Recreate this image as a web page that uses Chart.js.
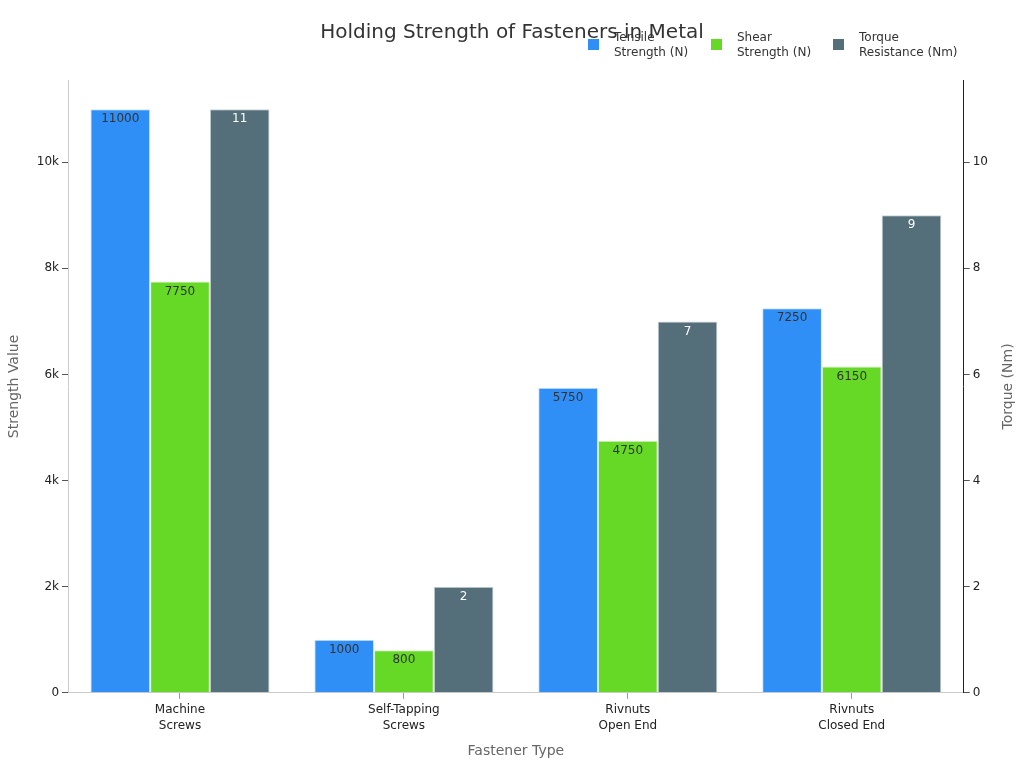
<!DOCTYPE html>
<html>
<head>
<meta charset="utf-8">
<script src="https://cdn.jsdelivr.net/npm/chart.js@4.4.1/dist/chart.umd.min.js"></script>
<style>
  html, body { margin: 0; padding: 0; background: #fff; }
  #wrap { width: 1024px; height: 768px; }
</style>
</head>
<body>
<div id="wrap"><canvas id="chart"></canvas></div>
<script>
const categories = [['Machine', 'Screws'], ['Self-Tapping', 'Screws'], ['Rivnuts', 'Open End'], ['Rivnuts', 'Closed End']];
const tensileValues = [11000, 1000, 5750, 7250];
const shearValues = [7750, 800, 4750, 6150];
const torqueValues = [11, 2, 7, 9];
const seriesLabels = [['Tensile', 'Strength (N)'], ['Shear', 'Strength (N)'], ['Torque', 'Resistance (Nm)']];
const chartTitle = 'Holding Strength of Fasteners in Metal';
const rightAxisTitle = 'Torque (Nm)';

const FONT = "'DejaVu Sans', sans-serif";

// labels inside the top of each bar
const barLabels = {
  id: 'barLabels',
  afterDatasetsDraw(chart) {
    const ctx = chart.ctx;
    ctx.save();
    ctx.font = '12px ' + FONT;
    ctx.textAlign = 'center';
    ctx.textBaseline = 'middle';
    chart.data.datasets.forEach((ds, i) => {
      chart.getDatasetMeta(i).data.forEach((bar, j) => {
        ctx.fillStyle = ds.labelColor;
        ctx.fillText(String(ds.data[j]), bar.x, bar.y + 10);
      });
    });
    ctx.restore();
  }
};

// title, legend and the right axis title (reads bottom to top)
const header = {
  id: 'header',
  afterDraw(chart) {
    const ctx = chart.ctx;
    ctx.save();
    ctx.fillStyle = '#333';
    ctx.font = '20px ' + FONT;
    ctx.textAlign = 'center';
    ctx.textBaseline = 'middle';
    ctx.fillText(chartTitle, 512, 33);

    const starts = [588, 711, 833];
    ctx.font = '12px ' + FONT;
    ctx.textAlign = 'left';
    chart.data.datasets.forEach((ds, i) => {
      const x = starts[i];
      ctx.fillStyle = ds.backgroundColor;
      ctx.fillRect(x, 39, 11, 11);
      ctx.fillStyle = '#333';
      const lines = seriesLabels[i];
      ctx.fillText(lines[0], x + 26, 38);
      ctx.fillText(lines[1], x + 26, 53);
    });

    const area = chart.chartArea;
    ctx.translate(1008, (area.top + area.bottom) / 2);
    ctx.rotate(-Math.PI / 2);
    ctx.textAlign = 'center';
    ctx.fillStyle = '#666';
    ctx.font = '14px ' + FONT;
    ctx.fillText(rightAxisTitle, 0, 0);
    ctx.restore();
  }
};

new Chart(document.getElementById('chart'), {
  type: 'bar',
  data: {
    labels: categories,
    datasets: [
      { label: 'Tensile Strength (N)', data: tensileValues, backgroundColor: '#2f8ff6', borderColor: '#cfe3f7', borderWidth: 1, yAxisID: 'y', labelColor: '#333' },
      { label: 'Shear Strength (N)', data: shearValues, backgroundColor: '#66d926', borderColor: '#d8f2c4', borderWidth: 1, yAxisID: 'y', labelColor: '#333' },
      { label: 'Torque Resistance (Nm)', data: torqueValues, backgroundColor: '#546e7a', borderColor: '#c9d3d8', borderWidth: 1, yAxisID: 'y1', labelColor: '#fff' }
    ]
  },
  options: {
    responsive: true,
    maintainAspectRatio: false,
    animation: false,
    layout: { padding: { top: 80, left: 2, right: 33, bottom: 4 } },
    datasets: { bar: { categoryPercentage: 0.8, barPercentage: 1.0 } },
    plugins: {
      legend: { display: false },
      title: { display: false },
      tooltip: { enabled: false }
    },
    scales: {
      x: {
        grid: { display: true, drawOnChartArea: false, offset: false, tickLength: 6, color: '#999' },
        border: { color: '#ccc' },
        ticks: { color: '#222', font: { family: FONT, size: 12, lineHeight: 1.35 }, maxRotation: 0 },
        title: { display: true, text: 'Fastener Type', color: '#666', font: { family: FONT, size: 14 }, padding: { top: 6 } }
      },
      y: {
        position: 'left',
        min: 0,
        max: 11550,
        grid: { drawOnChartArea: false, tickLength: 6, color: '#555' },
        border: { color: '#ccc' },
        afterBuildTicks(axis) { axis.ticks = [0, 2000, 4000, 6000, 8000, 10000].map(v => ({ value: v })); },
        ticks: {
          color: '#222',
          font: { family: FONT, size: 12 },
          callback: v => v === 0 ? '0' : (v / 1000) + 'k'
        },
        title: { display: true, text: 'Strength Value', color: '#666', font: { family: FONT, size: 14 }, padding: { bottom: 11 } }
      },
      y1: {
        position: 'right',
        min: 0,
        max: 11.55,
        grid: { drawOnChartArea: false, tickLength: 6, color: '#555' },
        border: { color: '#222' },
        afterBuildTicks(axis) { axis.ticks = [0, 2, 4, 6, 8, 10].map(v => ({ value: v })); },
        ticks: { color: '#222', font: { family: FONT, size: 12 } },
        title: { display: false }
      }
    }
  },
  plugins: [barLabels, header]
});
</script>
</body>
</html>
